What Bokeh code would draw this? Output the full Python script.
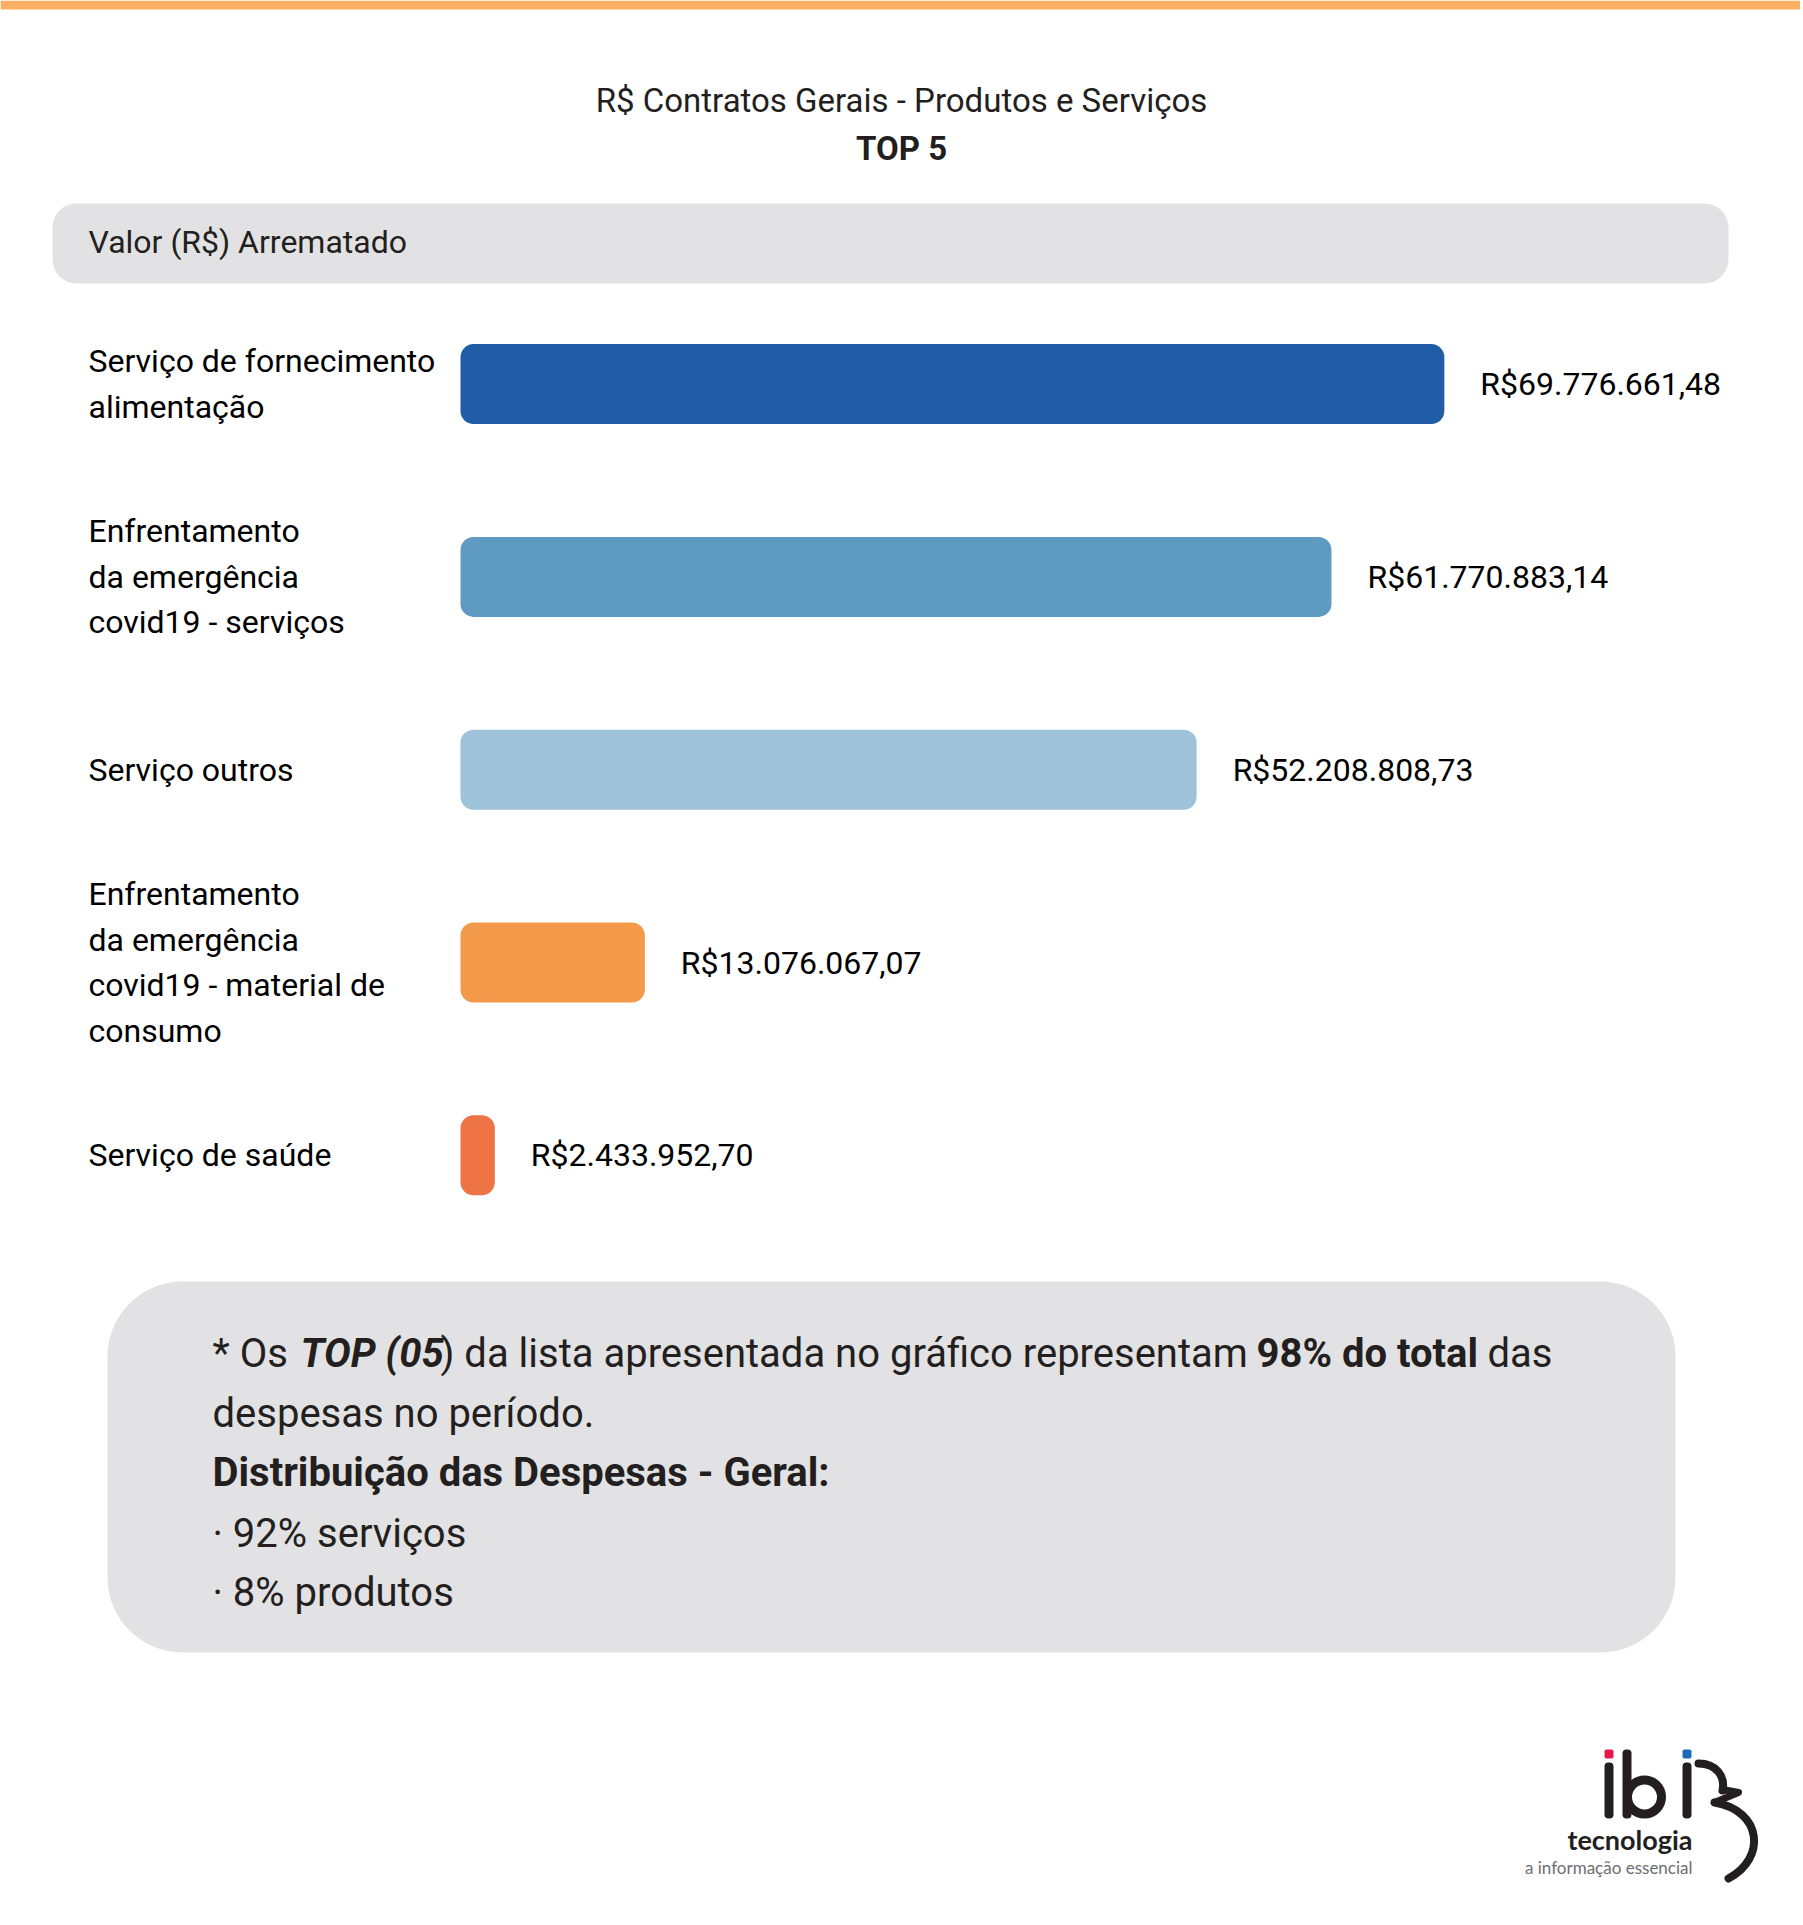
import numpy as np
from bokeh.plotting import figure
from bokeh.models import Range1d
from bokeh.core.properties import value
from bokeh.embed import file_html
from bokeh.resources import INLINE

# ---------------- data ----------------
categories = [
    "Serviço de fornecimento\nalimentação",
    "Enfrentamento\nda emergência\ncovid19 - serviços",
    "Serviço outros",
    "Enfrentamento\nda emergência\ncovid19 - material de\nconsumo",
    "Serviço de saúde",
]
values = [69776661.48, 61770883.14, 52208808.73, 13076067.07, 2433952.70]
bar_colors = ["#215DA7", "#5F9BC1", "#9EC2DA", "#F29A4A", "#EE7345"]

title_text = "R$ Contratos Gerais - Produtos e Serviços"
subtitle_text = "TOP 5"
header_text = "Valor (R$) Arrematado"

note_line1_runs = ["* Os ", "TOP (05", ") da lista apresentada no gráfico representam ", "98% do total", "das"]
note_line1_styles = ["normal", "bold italic", "normal", "bold", "normal"]
note_lines = ["despesas no período.", "Distribuição das Despesas - Geral:", "· 92% serviços", "· 8% produtos"]
note_styles = ["normal", "bold", "normal", "normal"]

logo_word = "tecnologia"
logo_tagline = "a informação essencial"


def brl(v):
    s = f"{v:,.2f}"
    return "R$" + s.replace(",", "X").replace(".", ",").replace("X", ".")


value_labels = [brl(v) for v in values]

# ---------------- layout / style ----------------
FONT = value("Roboto")
LOGO_FONT = value("Lato")
INK = "#231F20"
GREY_BOX = "#E2E2E4"

W, H = 1800, 1920  # data coords == page pixel coords

p = figure(width=W, height=H, x_range=Range1d(0, W), y_range=Range1d(H, 0),
           output_backend="svg", toolbar_location=None, min_border=0,
           x_axis_type=None, y_axis_type=None)
p.grid.visible = False
p.outline_line_color = None
p.background_fill_color = "white"
p.border_fill_color = "white"

# value axis: 0 at page x 460, 14.10 px per million
PX_PER_UNIT = 14.10e-6
X0 = 460
p.extra_x_ranges = {"val": Range1d(-X0 / PX_PER_UNIT, (W - X0) / PX_PER_UNIT)}
# row axis: first row centre at page y 384, rows 192.8 px apart
ROW0, ROW_STEP = 383.6, 192.8
p.extra_y_ranges = {"row": Range1d((H - ROW0) / ROW_STEP, -ROW0 / ROW_STEP)}

idx = np.arange(len(values))

# top stripe
p.quad(left=[0], right=[W], top=[0], bottom=[9], fill_color="#FDB063", line_color=None)

# title
p.text(x=[901], y=[100], text=[title_text], text_align="center", text_baseline="middle",
       text_font=FONT, text_font_size="33px", text_color=INK)
p.text(x=[901], y=[148], text=[subtitle_text], text_align="center", text_baseline="middle",
       text_font=FONT, text_font_size="33px", text_font_style="bold", text_color=INK)

# header box
p.quad(left=[52], right=[1728], top=[203], bottom=[283], fill_color=GREY_BOX, line_color=None,
       border_radius=24)
p.text(x=[88], y=[241], text=[header_text], text_align="left", text_baseline="middle",
       text_font=FONT, text_font_size="32px", text_color=INK)

# bars and labels
p.hbar(y=idx, left=0, right=values, height=80 / ROW_STEP, fill_color=bar_colors, line_color=None,
       border_radius=13, x_range_name="val", y_range_name="row")
p.text(x=values, y=idx, text=value_labels, x_offset=36, text_align="left", text_baseline="middle",
       text_font=FONT, text_font_size="32px", text_color="#000000",
       x_range_name="val", y_range_name="row")
p.text(x=[88] * len(categories), y=idx, text=categories, text_align="left", text_baseline="middle",
       text_line_height=1.2, text_font=FONT, text_font_size="32px", text_color="#000000",
       y_range_name="row")

# note box
p.quad(left=[107], right=[1675], top=[1281], bottom=[1652], fill_color=GREY_BOX, line_color=None,
       border_radius=75)
run_x = [212, 300, 440, 1256, 1487]
for txt, sty, xx in zip(note_line1_runs, note_line1_styles, run_x):
    p.text(x=[xx], y=[1353], text=[txt], text_align="left", text_baseline="alphabetic",
           text_font=FONT, text_font_size="40px", text_font_style=sty, text_color=INK)
line_y = [1413, 1472, 1533, 1592]
for txt, sty, yy in zip(note_lines, note_styles, line_y):
    p.text(x=[212], y=[yy], text=[txt], text_align="left", text_baseline="alphabetic",
           text_font=FONT, text_font_size="40px", text_font_style=sty, text_color=INK)

# logo
p.quad(left=[1604, 1682], right=[1613, 1691], top=[1749, 1749], bottom=[1758, 1758],
       fill_color=["#E5194B", "#1B6BB5"], line_color=None, border_radius=2)
p.quad(left=[1604, 1622, 1682], right=[1613, 1631, 1691], top=[1762, 1749, 1762],
       bottom=[1818, 1818, 1818], fill_color=INK, line_color=None, border_radius=4)
p.circle(x=[1644], y=[1796.5], radius=17, fill_color=None, line_color=INK, line_width=9)
p.bezier(x0=[1698, 1714], y0=[1763, 1802], x1=[1722, 1728], y1=[1790, 1878],
         cx0=[1716, 1762], cy0=[1763, 1810], cx1=[1725, 1766], cy1=[1776, 1858],
         line_color=INK, line_width=8, line_cap="round")
p.line(x=[1722, 1738, 1714], y=[1789, 1792, 1802], line_color=INK, line_width=7,
       line_cap="round", line_join="round")
p.text(x=[1692], y=[1839], text=[logo_word], text_align="right", text_baseline="alphabetic",
       text_font=LOGO_FONT, text_font_size="27px", text_font_style="bold", text_color=INK)
p.text(x=[1692], y=[1867], text=[logo_tagline], text_align="right", text_baseline="alphabetic",
       text_font=LOGO_FONT, text_font_size="17px", text_color="#6D6E71")

open("out.html", "w").write(file_html(p, INLINE))
